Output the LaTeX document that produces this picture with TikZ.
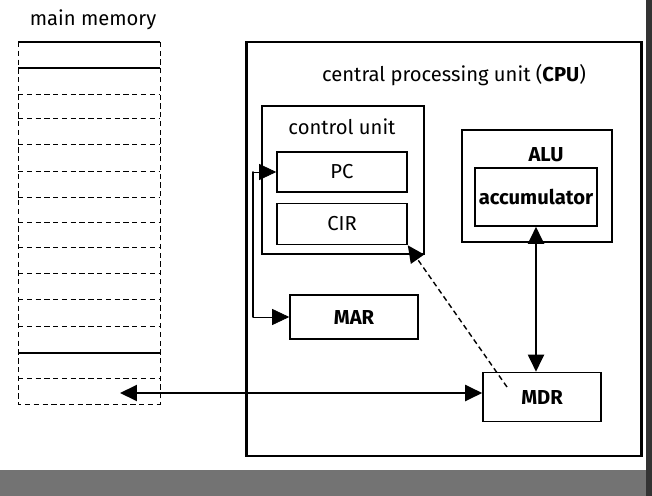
\documentclass[tikz,border=0pt]{standalone}
\usepackage{fontspec}
\setmainfont{Fira Sans}
\usepackage{tikz}
\usetikzlibrary{arrows.meta}

\begin{document}
\begin{tikzpicture}[x=0.02cm, y=-0.02cm,
  every node/.style={font=\fontsize{11.5}{13}\selectfont},
  box/.style={draw, line width=0.9pt, inner sep=0pt, minimum width=#1},
  tip/.style={-{Triangle[length=3.4mm,width=3.2mm]}},
  link/.style={line width=1.1pt, {Triangle[length=3.4mm,width=3.2mm]}-{Triangle[length=3.4mm,width=3.2mm]}}]
  \useasboundingbox (0,0) rectangle (652,496);
  % page edge of the photographed book
  \fill[black!55] (0,470) rectangle (652,496);
  \fill[black!80] (646,0) rectangle (652,496);
  % Main memory column with its words.
  \node (memtitle) at (93,20) {main memory};
  \foreach \y [count=\n] in {42,68,94,118,144,171,197,222,247,273,299,326,353,378,404} {
    \coordinate (ml\n) at (18,\y);
    \coordinate (mr\n) at (160,\y);
  }
  \foreach \n in {3,...,12,14} {
    \draw[densely dashed, thin] (ml\n)--(mr\n);
  }
  \draw[line width=0.8pt] (ml1)--(mr1);
  \draw[line width=1.1pt] (ml2)--(mr2);
  \draw[line width=1.1pt] (ml13)--(mr13);
  \draw[densely dashed, thin] (ml1)--(ml15)--(mr15)--(mr1);
  \coordinate (memtip) at (120,393);
  % CPU and its parts
  \node[box=7.9cm, minimum height=8.28cm, line width=1.2pt] (cpu) at (444,249) {};
  \node (cputitle) at (454,75) {central processing unit ({\bfseries CPU})};
  \node[box=3.24cm, minimum height=2.96cm] (cu) at (343,180) {};
  \node (cutitle) at (342,127) {control unit};
  \node[box=2.6cm, minimum height=0.8cm] (pc) at (342,172) {PC};
  \node[box=2.6cm, minimum height=0.82cm] (cir) at (342,224) {CIR};
  \node[box=2.56cm, minimum height=0.88cm, font=\fontsize{11.5}{13}\selectfont\bfseries] (mar) at (354,317) {MAR};
  \node[box=2.36cm, minimum height=0.98cm, font=\fontsize{11.5}{13}\selectfont\bfseries] (mdr) at (542,397) {MDR};
  \node[box=3.0cm, minimum height=2.24cm] (alu) at (537,186) {};
  \node[font=\fontsize{11.5}{13}\selectfont\bfseries] (alutitle) at (546,155) {ALU};
  \node[box=2.44cm, minimum height=1.16cm, font=\fontsize{11.5}{13}\selectfont\bfseries] (acc) at (536,197) {accumulator};
  % connectors
  \coordinate (bus) at (253,172);
  \draw[{Triangle[length=3.4mm,width=3.2mm]}-{Triangle[length=3.4mm,width=3.2mm]}, thin]
    (pc.west) -- (bus) |- (mar.west);
  \draw[line width=0.9pt, line cap=round] (bus) -- (bus |- mar.west);
  \draw[densely dashed, thick, tip] (507,387) -- (cir.south east);
  \draw[link] (acc.south) -- (acc.south |- mdr.north);
  \draw[link] (memtip) -- (mdr.west |- memtip);
\end{tikzpicture}
\end{document}
